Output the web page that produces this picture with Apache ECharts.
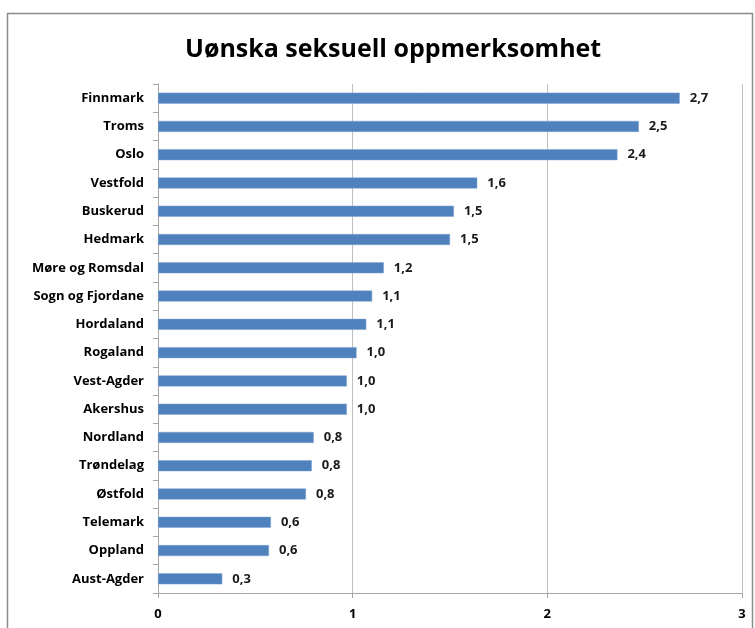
<!DOCTYPE html>
<html>
<head>
<meta charset="utf-8">
<script src="https://cdn.jsdelivr.net/npm/echarts@6/dist/echarts.min.js"></script>
<style>
html,body{margin:0;padding:0;background:#fff;}
#c{width:755px;height:628px;}
</style>
</head>
<body>
<div id="c"></div>
<script>
const titleText = "Uønska seksuell oppmerksomhet";
const categories = ["Finnmark","Troms","Oslo","Vestfold","Buskerud","Hedmark","Møre og Romsdal","Sogn og Fjordane","Hordaland","Rogaland","Vest-Agder","Akershus","Nordland","Trøndelag","Østfold","Telemark","Oppland","Aust-Agder"];
const values = [2.68,2.47,2.36,1.64,1.52,1.50,1.16,1.10,1.07,1.02,0.97,0.97,0.80,0.79,0.76,0.58,0.57,0.33];
const xTicks = [0,1,2,3];

const chart = echarts.init(document.getElementById('c'), null, {renderer:'canvas'});
const font = '"Open Sans", "DejaVu Sans", sans-serif';
chart.setOption({
  backgroundColor:'#fff',
  animation:false,
  title:{
    text:titleText, left:180, top:32,
    textStyle:{fontFamily:font, fontWeight:'bold', fontSize:25, color:'#000'}
  },
  graphic:[{
    type:'rect', silent:true,
    shape:{x:7.5,y:13.5,width:745,height:700},
    style:{fill:null, stroke:'#8c8c8c', lineWidth:1.5}
  }],
  grid:{left:158, right:13, top:84, bottom:35, containLabel:false},
  xAxis:{
    type:'value', min:0, max:3, interval:1,
    axisLine:{show:true, lineStyle:{color:'#a6a6a6'}},
    axisTick:{show:true, length:5, lineStyle:{color:'#a6a6a6'}},
    splitLine:{show:true, lineStyle:{color:'#bfbfbf', width:1}},
    axisLabel:{fontFamily:font, fontWeight:'bold', fontSize:13, color:'#000', margin:15,
      formatter:(v)=> xTicks.includes(v) ? String(v) : ''}
  },
  yAxis:{
    type:'category', data:categories, inverse:true,
    axisLine:{show:true, lineStyle:{color:'#a6a6a6'}},
    axisTick:{show:true, length:5, lineStyle:{color:'#a6a6a6'}},
    splitLine:{show:false},
    axisLabel:{fontFamily:font, fontWeight:'bold', fontSize:13, color:'#000', margin:14}
  },
  series:[{
    type:'bar', data:values, barWidth:11,
    itemStyle:{color:'#4f81bd', borderColor:'#7ea3d1', borderWidth:0.5},
    label:{show:true, position:'right', distance:10,
      fontFamily:font, fontWeight:'bold', fontSize:13, color:'#1a1a1a',
      formatter:(p)=>p.value.toFixed(1).replace('.',',')}
  }]
});
</script>
</body>
</html>
